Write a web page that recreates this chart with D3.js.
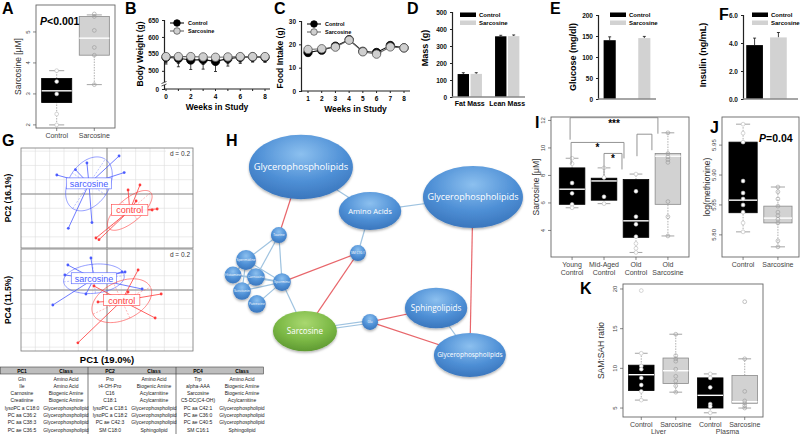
<html>
<head>
<script src="https://d3js.org/d3.v7.min.js"></script>
<style>
  body { margin: 0; background: #fff; }
</style>
</head>
<body>
<svg width=800 height=436></svg>
<script>
// ---------- data ----------
// A
const aGroups = ["Control", "Sarcosine"];
const aStats = [[2.0, 2.72, 3.1, 3.5, 3.75], [3.3, 4.25, 4.8, 5.5, 5.55]];
const aPoints = [[3.75, 3.4, 3.0, 2.35, 2.0], [5.58, 5.5, 5.05, 4.5, 4.25, 3.3]];
const aTicks = [2, 3, 4, 5];

// B
const weeksB = [0, 1, 2, 3, 4, 5, 6, 7, 8];
const bwControl = [540, 537, 532, 533, 528, 536, 540, 541, 540];
const bwSarcosine = [542, 542, 542, 541, 540, 541, 542, 542, 542];
const bwErrControl = [20, 25, 28, 28, 30, 22, 18, 15, 15];
const bwErrSarcosine = [18, 20, 20, 22, 22, 20, 16, 15, 15];
const bwTicks = [0, 500, 550, 600, 650];

// C
const weeksC = [1, 2, 3, 4, 5, 6, 7, 8];
const fiControl = [16.5, 17.5, 19.2, 22, 17, 16.5, 19.5, 18.5];
const fiSarcosine = [17.8, 18.1, 18.8, 21.8, 16.8, 15.8, 18.9, 18.5];
const fiTicks = [0, 10, 20, 30];

// D
const massCats = ["Fat Mass", "Lean Mass"];
const massControl = [135, 357];
const massSarcosine = [136, 358];
const massErrControl = [8, 6];
const massErrSarcosine = [7, 7];

// E
const glucose = [140, 145];
const glucoseErr = [8, 4];
// F
const insulin = [3.85, 4.4];
const insulinErr = [0.5, 0.35];

// G
const pcaTopSarc = [[-3.5, 1.33], [-1.4, 2.17], [0.84, 2.66], [1.2, 1.5], [-2.7, -2.4], [-1.05, -2.0], [-2.2, 1.7]];
const pcaTopCtrl = [[-0.77, -3.08], [-0.56, -3.2], [2.03, -0.49], [3.15, -1.12], [3.5, -1.05], [1.47, 0.28], [2.3, 0.63]];
const pcaBotSarc = [[-1.12, 2.24], [-2.73, 1.75], [-3.78, -1.05], [-1.47, -0.28], [1.26, 1.26], [1.05, 1.26], [2.45, 0.07], [-2.94, 1.05]];
const pcaBotCtrl = [[2.17, 1.4], [3.78, -0.28], [3.36, -1.96], [-2.03, -3.7], [-0.63, -0.84], [1.47, -0.14], [-0.91, 0.28]];
const pc1Names = ["Gln", "Ile", "Carnosine", "Creatinine", "lysoPC a C18:0", "PC aa C36:2", "PC aa C38:3", "PC ae C36:5"];
const pc1Class = ["Amino Acid", "Amino Acid", "Biogenic Amine", "Biogenic Amine", "Glycerophospholipid", "Glycerophospholipid", "Glycerophospholipid", "Glycerophospholipid"];
const pc2Names = ["Pro", "t4-OH-Pro", "C16", "C18:1", "lysoPC a C18:1", "lysoPC a C18:2", "PC ae C42:3", "SM C18:0"];
const pc2Class = ["Amino Acid", "Biogenic Amine", "Acylcarnitine", "Acylcarnitine", "Glycerophospholipid", "Glycerophospholipid", "Glycerophospholipid", "Sphingolipid"];
const pc4Names = ["Trp", "alpha-AAA", "Sarcosine", "C5-DC(C4-OH)", "PC aa C42:1", "PC ae C36:0", "PC ae C40:5", "SM C16:1"];
const pc4Class = ["Amino Acid", "Biogenic Amine", "Biogenic Amine", "Acylcarnitine", "Glycerophospholipid", "Glycerophospholipid", "Glycerophospholipid", "Sphingolipid"];

// H (network, layout in 0-100 units)
const hNodes = ["Glycerophospholipids", "Amino Acids", "Glycerophospholipids", "Taurine", "SM C16:1", "Spermidine", "Histamine", "Carnosine", "Spermine", "Serotonin", "Putrescine", "Sarcosine", "Glu", "Sphingolipids", "Glycerophospholipids"];
const hLayoutX = [26.1, 48.4, 81.6, 19.0, 44.5, 8.4, 4.2, 11.6, 20.0, 7.1, 11.9, 27.4, 48.4, 69.7, 80.6];
const hLayoutY = [11.25, 29.6, 23.75, 39.6, 47.1, 50, 56.25, 57.1, 59.2, 62.9, 68.3, 79.6, 75.8, 70, 89.6];
const hSize = [0.65, 0.39, 0.625, 0.1, 0.1, 0.125, 0.105, 0.11, 0.11, 0.11, 0.11, 0.4, 0.1, 0.39, 0.45];
const hAspect = [0.62, 0.61, 0.62, 1, 1, 1, 1, 1, 1, 1, 1, 0.63, 1, 0.65, 0.61];
const hEdgesPos = [[0, 1], [1, 2], [1, 4], [3, 5], [3, 7], [3, 8], [5, 6], [5, 7], [5, 8], [6, 7], [6, 8], [7, 8], [9, 8], [9, 7], [10, 8], [8, 11], [13, 14], [5, 9]];
const hEdgesNeg = [[0, 3], [8, 4], [11, 4], [12, 13], [12, 14], [2, 14]];
const hDouble = [[11, 12]];

// I
const iGroups = [["Young", "Control"], ["Mid-Aged", "Control"], ["Old", "Control"], ["Old", "Sarcosine"]];
const iStats = [[5.65, 5.9, 7.0, 8.55, 9.25], [5.95, 6.2, 7.6, 7.8, 8.55], [2.4, 3.5, 4.7, 7.7, 8.1], [3.6, 5.9, 9.4, 9.6, 11.1]];
const iPoints = [[9.25, 8.85, 7.45, 6.7, 5.9, 5.65], [8.55, 7.85, 6.45, 5.95], [8.1, 6.85, 5.0, 4.45, 3.55, 3.05, 2.7, 2.4], [11.1, 9.6, 9.35, 9.15, 8.95, 6.1, 5.0, 3.6]];
const iTicks = [4, 6, 8, 10, 12];
const iBrackets = [[0, 3, 12.2, "***"], [0, 2, 10.4, "*"], [1, 2, 9.6, "*"], [2, 3, 11.0, ""]];

// J
const jGroups = [["Control"], ["Sarcosine"]];
const jStats = [[5.805, 5.837, 5.858, 5.955, 5.985], [5.78, 5.82, 5.828, 5.848, 5.88]];
const jPoints = [[5.985, 5.97, 5.955, 5.89, 5.87, 5.86, 5.85, 5.838, 5.82, 5.805], [5.88, 5.872, 5.86, 5.848, 5.838, 5.832, 5.826, 5.82, 5.79, 5.78]];
const jTicks = [5.80, 5.85, 5.90, 5.95];

// K
const kGroups = [["Control"], ["Sarcosine"], ["Control"], ["Sarcosine"]];
const kTissues = ["Liver", "Plasma"];
const kStats = [[6.0, 7.2, 9.2, 10.4, 11.9], [7.0, 8.1, 9.7, 11.3, 14.3], [4.4, 5.0, 6.6, 8.8, 9.3], [5.0, 5.6, 5.8, 9.1, 11.2]];
const kPoints = [[19.8, 11.9, 10.3, 9.9, 8.8, 7.9, 7.1, 6.0], [14.3, 11.6, 11.2, 10.9, 9.9, 9.0, 8.4, 7.8, 7.0], [9.3, 8.8, 7.6, 5.5, 5.2, 4.4], [18.4, 11.2, 7.1, 5.9, 5.6, 5.3, 5.0]];
const kTicks = [5, 10, 15, 20];

// ---------- drawing ----------
const FONT = '"Liberation Sans", Arial, sans-serif';
const BLACK = "#000", GREY = "#d2d2d2";
const svg = d3.select("svg").style("font-family", FONT);
svg.append("rect").attr("width", 800).attr("height", 436).attr("fill", "#fff");

// panel letters
[["A", 2, 14], ["B", 125, 14], ["C", 274, 14], ["D", 407, 14], ["E", 550, 14], ["F", 719, 20],
 ["G", 2, 146], ["H", 226, 146], ["I", 535, 128], ["J", 710, 133], ["K", 580, 294]].forEach(d => {
  svg.append("text").attr("x", d[1]).attr("y", d[2]).text(d[0])
    .attr("font-size", 16).attr("font-weight", "bold");
});

// ---- R style box plots ----
function rBoxPanel(o) {
  const g = svg.append("g");
  const x = d3.scaleBand().domain(o.groups.map((d, i) => i)).range([o.left, o.right])
    .paddingInner(o.pi).paddingOuter(o.po);
  const y = d3.scaleLinear().domain(o.domain).range([o.bottom, o.top]);
  const bw = x.bandwidth();
  o.stats.forEach((s, i) => {
    const cx = x(i) + bw / 2;
    const fill = o.fills[i];
    [[s[0], s[1]], [s[3], s[4]]].forEach(w => g.append("line")
      .attr("x1", cx).attr("x2", cx).attr("y1", y(w[0])).attr("y2", y(w[1]))
      .attr("stroke", "#9a9a9a").attr("stroke-width", 0.8).attr("stroke-dasharray", "1.5,1.2"));
    [s[0], s[4]].forEach(v => g.append("line")
      .attr("x1", cx - bw / 4).attr("x2", cx + bw / 4).attr("y1", y(v)).attr("y2", y(v))
      .attr("stroke", "#9a9a9a").attr("stroke-width", 0.9));
    g.append("rect").attr("x", x(i)).attr("y", y(s[3])).attr("width", bw)
      .attr("height", y(s[1]) - y(s[3])).attr("fill", fill)
      .attr("stroke", fill === BLACK ? BLACK : "#8a8a8a").attr("stroke-width", 0.8);
    g.append("line").attr("x1", x(i)).attr("x2", x(i) + bw).attr("y1", y(s[2])).attr("y2", y(s[2]))
      .attr("stroke", "#fff").attr("stroke-width", 1.4);
    g.selectAll(null).data(o.points[i]).join("circle")
      .attr("cx", cx).attr("cy", d => y(d)).attr("r", 1.9)
      .attr("fill", fill === BLACK ? "#fff" : "none")
      .attr("stroke", fill === BLACK ? "#bbb" : "#999").attr("stroke-width", 0.6);
  });
  g.append("rect").attr("x", o.left).attr("y", o.top).attr("width", o.right - o.left)
    .attr("height", o.bottom - o.top).attr("fill", "none").attr("stroke", "#666").attr("stroke-width", 0.9);
  // y axis
  const fmt = o.fmt || (d => d);
  o.ticks.forEach(t => {
    g.append("line").attr("x1", o.left - 3).attr("x2", o.left).attr("y1", y(t)).attr("y2", y(t))
      .attr("stroke", "#555").attr("stroke-width", 0.7);
    g.append("text").attr("transform", `translate(${o.left - 6},${y(t)}) rotate(-90)`)
      .attr("text-anchor", "middle").attr("font-size", 6).attr("fill", "#444").text(fmt(t));
  });
  // x axis
  o.groups.forEach((lab, i) => {
    const cx = x(i) + bw / 2;
    g.append("line").attr("x1", cx).attr("x2", cx).attr("y1", o.bottom).attr("y2", o.bottom + 3)
      .attr("stroke", "#555").attr("stroke-width", 0.7);
    lab.forEach((l, k) => g.append("text").attr("x", cx).attr("y", o.bottom + 10 + k * 8)
      .attr("text-anchor", "middle").attr("font-size", 7).attr("fill", "#444").text(l));
  });
  g.append("text").attr("transform", `translate(${o.ylabX},${(o.top + o.bottom) / 2}) rotate(-90)`)
    .attr("text-anchor", "middle").attr("font-size", 8.5).attr("fill", "#333").text(o.ylabel);
  return { g, x, y, bw };
}

// A
rBoxPanel({ groups: aGroups.map(d => [d]), stats: aStats, points: aPoints, fills: [BLACK, GREY],
  left: 36, right: 115, top: 5, bottom: 128, domain: [1.9, 5.87], pi: 0.2, po: 0.15,
  ticks: aTicks, ylabel: "Sarcosine [\u03bcM]", ylabX: 21 });
svg.append("text").attr("x", 40).attr("y", 25).attr("font-size", 10.5).attr("font-weight", "bold")
  .call(t => t.append("tspan").attr("font-style", "italic").text("P"))
  .call(t => t.append("tspan").text("<0.001"));

// I
const pI = rBoxPanel({ groups: iGroups, stats: iStats, points: iPoints, fills: [BLACK, BLACK, BLACK, GREY],
  left: 551, right: 689, top: 117, bottom: 257, domain: [2.07, 12.25], pi: 0.2, po: 0.26,
  ticks: iTicks, ylabel: "Sarcosine [\u03bcM]", ylabX: 539 });
iBrackets.forEach((b, k) => {
  const x1 = pI.x(b[0]) + pI.bw / 2 - 2 + k, x2 = pI.x(b[1]) + pI.bw / 2 - 10 - k * 2;
  const yy = pI.y(b[2]);
  pI.g.append("path").attr("d", `M${x1},${yy + 22}V${yy}H${x2}V${yy + 16}`)
    .attr("fill", "none").attr("stroke", "#888").attr("stroke-width", 0.9);
  if (b[3]) pI.g.append("text").attr("x", (x1 + x2) / 2).attr("y", yy + 9)
    .attr("text-anchor", "middle").attr("font-size", 10).attr("font-weight", "bold").text(b[3]);
});

// J
rBoxPanel({ groups: jGroups, stats: jStats, points: jPoints, fills: [BLACK, GREY],
  left: 722, right: 799, top: 117, bottom: 257, domain: [5.763, 5.997], pi: 0.19, po: 0.2,
  ticks: jTicks, fmt: d3.format(".2f"), ylabel: "log(methionine)", ylabX: 710 });
svg.append("text").attr("x", 759).attr("y", 142).attr("font-size", 10.5).attr("font-weight", "bold")
  .call(t => t.append("tspan").attr("font-style", "italic").text("P"))
  .call(t => t.append("tspan").text("=0.04"));

// K
const pK = rBoxPanel({ groups: kGroups, stats: kStats, points: kPoints, fills: [BLACK, GREY, BLACK, GREY],
  left: 623, right: 763, top: 284, bottom: 417, domain: [3.87, 20.63], pi: 0.26, po: 0.16,
  ticks: kTicks, ylabel: "SAM:SAH ratio", ylabX: 604 });
kTissues.forEach((t, k) => {
  const cx = (pK.x(2 * k) + pK.x(2 * k + 1) + pK.bw) / 2;
  svg.append("text").attr("x", cx).attr("y", 434).attr("text-anchor", "middle")
    .attr("font-size", 7).attr("fill", "#444").text(t);
});

// ---- Excel style line charts ----
function styleAxis(a) {
  a.select(".domain").attr("stroke", "#222").attr("stroke-width", 1.2);
  a.selectAll(".tick line").attr("stroke", "#222");
  a.selectAll(".tick text").attr("font-size", 6.5).attr("font-weight", "bold").attr("font-family", FONT).attr("fill", "#111");
}
function linePanel(o) {
  const g = svg.append("g");
  const x = d3.scaleLinear().domain(o.xDomain).range(o.xRange);
  const y = d3.scaleLinear().domain(o.yDomain).range(o.yRange);
  const ya = g.append("g").attr("transform", `translate(${o.axisX},0)`)
    .call(d3.axisLeft(y).tickValues(o.yTicks).tickSize(2).tickPadding(3));
  styleAxis(ya);
  g.append("line").attr("x1", o.axisX).attr("x2", o.xEnd).attr("y1", o.yRange[0]).attr("y2", o.yRange[0])
    .attr("stroke", "#222").attr("stroke-width", 1.2);
  o.weeks.forEach(w => {
    g.append("line").attr("x1", x(w)).attr("x2", x(w)).attr("y1", o.yRange[0]).attr("y2", o.yRange[0] + 2).attr("stroke", "#222");
    if (o.labelWeek(w)) g.append("text").attr("x", x(w)).attr("y", o.yRange[0] + 10).attr("text-anchor", "middle")
      .attr("font-size", 6.5).attr("font-weight", "bold").text(w);
  });
  const series = [[o.ctrl, o.ctrlErr, BLACK, BLACK, "#111"], [o.sarc, o.sarcErr, "#cfcfcf", "#555", "#666"]];
  series.forEach(s => {
    s[0].forEach((v, i) => {
      if (!s[1]) return;
      g.append("line").attr("x1", x(o.weeks[i])).attr("x2", x(o.weeks[i])).attr("y1", y(v)).attr("y2", y(v - s[1][i]))
        .attr("stroke", "#111").attr("stroke-width", 0.8);
      g.append("line").attr("x1", x(o.weeks[i]) - 1.5).attr("x2", x(o.weeks[i]) + 1.5)
        .attr("y1", y(v - s[1][i])).attr("y2", y(v - s[1][i])).attr("stroke", "#111").attr("stroke-width", 0.8);
    });
  });
  series.forEach(s => {
    g.append("path").attr("d", d3.line().x((d, i) => x(o.weeks[i])).y(d => y(d))(s[0]))
      .attr("fill", "none").attr("stroke", s[4]).attr("stroke-width", 1.1);
    g.selectAll(null).data(s[0]).join("circle").attr("cx", (d, i) => x(o.weeks[i])).attr("cy", d => y(d))
      .attr("r", 4.2).attr("fill", s[2]).attr("stroke", s[3]).attr("stroke-width", 0.8);
  });
  // legend
  ["Control", "Sarcosine"].forEach((n, k) => {
    const ly = o.legY + k * 8;
    g.append("line").attr("x1", o.legX).attr("x2", o.legX + 14).attr("y1", ly).attr("y2", ly).attr("stroke", series[k][4]).attr("stroke-width", 1.1);
    g.append("circle").attr("cx", o.legX + 7).attr("cy", ly).attr("r", 3.3).attr("fill", series[k][2]).attr("stroke", series[k][3]).attr("stroke-width", 0.8);
    g.append("text").attr("x", o.legX + 18).attr("y", ly + 2).attr("font-size", 5.5).attr("font-weight", "bold").text(n);
  });
  g.append("text").attr("x", (o.axisX + o.xEnd) / 2).attr("y", o.yRange[0] + 21).attr("text-anchor", "middle")
    .attr("font-size", 8.5).attr("font-weight", "bold").text("Weeks in Study");
  g.append("text").attr("transform", `translate(${o.ylabX},${o.ylabY}) rotate(-90)`).attr("text-anchor", "middle")
    .attr("font-size", 8.5).attr("font-weight", "bold").text(o.ylabel);
  return { g, x, y };
}

// B
const pB = linePanel({ weeks: weeksB, ctrl: bwControl, sarc: bwSarcosine, ctrlErr: bwErrControl, sarcErr: bwErrSarcosine,
  xDomain: [0, 8], xRange: [166, 265], yDomain: [0, 470, 650], yRange: [89, 81, 20], yTicks: bwTicks,
  axisX: 164, xEnd: 270, labelWeek: w => w % 2 === 0, legX: 170, legY: 23, ylabX: 143, ylabY: 54, ylabel: "Body Weight (g)" });
pB.g.append("rect").attr("x", 161).attr("y", 82).attr("width", 6).attr("height", 3).attr("fill", "#fff");
pB.g.append("path").attr("d", "M161.5,83.5 L166.5,81.5 M161.5,86 L166.5,84").attr("stroke", "#222").attr("stroke-width", 0.8);

// C
linePanel({ weeks: weeksC, ctrl: fiControl, sarc: fiSarcosine, ctrlErr: null, sarcErr: null,
  xDomain: [1, 8], xRange: [308, 404], yDomain: [0, 30], yRange: [91, 21], yTicks: fiTicks,
  axisX: 301, xEnd: 410, labelWeek: w => true, legX: 307, legY: 24, ylabX: 283, ylabY: 58, ylabel: "Food Intake (g)" });

// ---- Excel style bar charts ----
function barPanel(o) {
  const g = svg.append("g");
  const x0 = d3.scaleBand().domain(o.cats).range(o.xRange).paddingInner(o.pi).paddingOuter(o.po);
  const x1 = d3.scaleBand().domain(["Control", "Sarcosine"]).range([0, x0.bandwidth()]).paddingInner(o.sub);
  const y = d3.scaleLinear().domain(o.yDomain).range(o.yRange);
  const ya = g.append("g").attr("transform", `translate(${o.axisX},0)`)
    .call(d3.axisLeft(y).tickValues(o.yTicks).tickSize(2).tickPadding(3));
  styleAxis(ya);
  const sets = [["Control", o.ctrl, o.ctrlErr, BLACK], ["Sarcosine", o.sarc, o.sarcErr, GREY]];
  sets.forEach(s => o.cats.forEach((c, i) => {
    const bx = x0(c) + x1(s[0]);
    const cx = bx + x1.bandwidth() / 2;
    g.append("line").attr("x1", cx).attr("x2", cx).attr("y1", y(s[1][i])).attr("y2", y(s[1][i] + s[2][i])).attr("stroke", "#111").attr("stroke-width", 0.8);
    g.append("line").attr("x1", cx - 1.5).attr("x2", cx + 1.5).attr("y1", y(s[1][i] + s[2][i])).attr("y2", y(s[1][i] + s[2][i])).attr("stroke", "#111").attr("stroke-width", 0.8);
    g.append("rect").attr("x", bx).attr("y", y(s[1][i])).attr("width", x1.bandwidth())
      .attr("height", y(0) - y(s[1][i])).attr("fill", s[3]);
  }));
  g.append("line").attr("x1", o.axisX).attr("x2", o.xEnd).attr("y1", y(0)).attr("y2", y(0)).attr("stroke", "#888").attr("stroke-width", 1.3);
  if (o.showCats) o.cats.forEach(c => g.append("text").attr("x", x0(c) + x0.bandwidth() / 2).attr("y", y(0) + 9)
    .attr("text-anchor", "middle").attr("font-size", 7).attr("font-weight", "bold").text(c));
  sets.forEach((s, k) => {
    g.append("rect").attr("x", o.legX).attr("y", o.legY + k * 8 - 2.5).attr("width", 16).attr("height", 4.5).attr("fill", s[3]);
    g.append("text").attr("x", o.legX + 19).attr("y", o.legY + k * 8 + 2).attr("font-size", 6).attr("font-weight", "bold").text(s[0]);
  });
  g.append("text").attr("transform", `translate(${o.ylabX},${o.ylabY}) rotate(-90)`).attr("text-anchor", "middle")
    .attr("font-size", 9).attr("font-weight", "bold").text(o.ylabel);
}

barPanel({ cats: massCats, ctrl: massControl, sarc: massSarcosine, ctrlErr: massErrControl, sarcErr: massErrSarcosine,
  xRange: [452, 525], pi: 0.35, po: 0.15, sub: 0.12, yDomain: [0, 500], yRange: [97, 12], yTicks: [0, 100, 200, 300, 400, 500],
  axisX: 452, xEnd: 525, showCats: true, legX: 460, legY: 15, ylabX: 428, ylabY: 48, ylabel: "Mass (g)" });
barPanel({ cats: ["All"], ctrl: [glucose[0]], sarc: [glucose[1]], ctrlErr: [glucoseErr[0]], sarcErr: [glucoseErr[1]],
  xRange: [598, 656], pi: 0, po: 0.12, sub: 0.65, yDomain: [0, 200], yRange: [99, 15], yTicks: [0, 50, 100, 150, 200],
  axisX: 598, xEnd: 656, showCats: false, legX: 610, legY: 15, ylabX: 576, ylabY: 57, ylabel: "Glucose (mg/dl)" });
barPanel({ cats: ["All"], ctrl: [insulin[0]], sarc: [insulin[1]], ctrlErr: [insulinErr[0]], sarcErr: [insulinErr[1]],
  xRange: [743, 790], pi: 0, po: 0.08, sub: 0.3, yDomain: [0, 6], yRange: [99, 15], yTicks: [0, 2, 4, 6],
  axisX: 743, xEnd: 798, showCats: false, legX: 752, legY: 15, ylabX: 706, ylabY: 55, ylabel: "Insulin (ng/mL)" });

// ---- G: PCA ----
function pcaPlot(top, bottom, yDomain, groups) {
  const g = svg.append("g");
  const x = d3.scaleLinear().domain([-6, 6]).range([21, 193]);
  const y = d3.scaleLinear().domain(yDomain).range([bottom, top]);
  d3.range(-5, 6).forEach(v => g.append("line").attr("x1", x(v)).attr("x2", x(v)).attr("y1", top).attr("y2", bottom).attr("stroke", "#ddd").attr("stroke-width", 0.6));
  d3.range(Math.ceil(yDomain[0]), Math.floor(yDomain[1]) + 1).forEach(v => g.append("line").attr("x1", 21).attr("x2", 193).attr("y1", y(v)).attr("y2", y(v)).attr("stroke", "#ddd").attr("stroke-width", 0.6));
  g.append("line").attr("x1", x(0)).attr("x2", x(0)).attr("y1", top).attr("y2", bottom).attr("stroke", "#888").attr("stroke-width", 1);
  g.append("line").attr("x1", 21).attr("x2", 193).attr("y1", y(0)).attr("y2", y(0)).attr("stroke", "#888").attr("stroke-width", 1);
  g.append("rect").attr("x", 21).attr("y", top).attr("width", 172).attr("height", bottom - top).attr("fill", "none").attr("stroke", "#777").attr("stroke-width", 0.8);
  g.append("rect").attr("x", 166).attr("y", top + 2).attr("width", 26).attr("height", 8).attr("fill", "#fff");
  g.append("text").attr("x", 190).attr("y", top + 8).attr("text-anchor", "end").attr("font-size", 6.5).attr("fill", "#333").text("d = 0.2");
  groups.forEach(([pts, col, name]) => {
    const mx = d3.mean(pts, d => d[0]), my = d3.mean(pts, d => d[1]);
    const vx = d3.mean(pts, d => (d[0] - mx) ** 2), vy = d3.mean(pts, d => (d[1] - my) ** 2);
    const cxy = d3.mean(pts, d => (d[0] - mx) * (d[1] - my));
    const tr = (vx + vy) / 2, disc = Math.sqrt(tr * tr - (vx * vy - cxy * cxy));
    const l1 = tr + disc, l2 = Math.max(tr - disc, 0.01);
    const ang = Math.atan2(l1 - vx, cxy || 1e-9);
    const a = Math.sqrt(l1), b = Math.sqrt(l2);
    const ca = Math.cos(ang), sa = Math.sin(ang);
    const ell = d3.range(0, 2 * Math.PI + 0.01, 0.05).map(t => [mx + a * Math.cos(t) * ca - b * Math.sin(t) * sa, my + a * Math.cos(t) * sa + b * Math.sin(t) * ca]);
    g.append("path").attr("d", d3.line().x(d => x(d[0])).y(d => y(d[1]))(ell)).attr("fill", "none").attr("stroke", col).attr("stroke-width", 0.8).attr("opacity", 0.75);
    [[a * ca, a * sa], [-b * sa, b * ca]].forEach(v => g.append("line")
      .attr("x1", x(mx - v[0])).attr("x2", x(mx + v[0])).attr("y1", y(my - v[1])).attr("y2", y(my + v[1]))
      .attr("stroke", col).attr("stroke-width", 0.6).attr("stroke-dasharray", "2,1.5").attr("opacity", 0.6));
    pts.forEach(p => g.append("line").attr("x1", x(mx)).attr("y1", y(my)).attr("x2", x(p[0])).attr("y2", y(p[1])).attr("stroke", col).attr("stroke-width", 0.8));
    g.selectAll(null).data(pts).join("circle").attr("cx", d => x(d[0])).attr("cy", d => y(d[1])).attr("r", 1.4).attr("fill", col);
    const tw = name.length * 4.6 + 4;
    g.append("rect").attr("x", x(mx) - tw / 2).attr("y", y(my) - 6).attr("width", tw).attr("height", 11).attr("fill", "#fff").attr("stroke", col).attr("stroke-width", 0.6).attr("opacity", 0.95);
    g.append("text").attr("x", x(mx)).attr("y", y(my) + 3).attr("text-anchor", "middle").attr("font-size", 9).attr("fill", col).text(name);
  });
}
const BLUE = "#4b5cff", RED = "#ff3b3b";
pcaPlot(148, 248, [-3.78, 3.22], [[pcaTopSarc, BLUE, "sarcosine"], [pcaTopCtrl, RED, "control"]]);
pcaPlot(249, 351, [-4.27, 2.87], [[pcaBotSarc, BLUE, "sarcosine"], [pcaBotCtrl, RED, "control"]]);
svg.append("text").attr("transform", "translate(11,198) rotate(-90)").attr("text-anchor", "middle").attr("font-size", 8.5).attr("font-weight", "bold").text("PC2 (16.1%)");
svg.append("text").attr("transform", "translate(11,300) rotate(-90)").attr("text-anchor", "middle").attr("font-size", 8.5).attr("font-weight", "bold").text("PC4 (11.5%)");
svg.append("text").attr("x", 107).attr("y", 363).attr("text-anchor", "middle").attr("font-size", 9.5).attr("font-weight", "bold").text("PC1 (19.0%)");

// table
const tCols = [["PC1", pc1Names], ["Class", pc1Class], ["PC2", pc2Names], ["Class", pc2Class], ["PC4", pc4Names], ["Class", pc4Class]];
const tx = d3.scaleBand().domain(d3.range(6)).range([0, 264]);
const ty = d3.scaleLinear().domain([0, 7]).range([380.5, 431.5]);
svg.append("rect").attr("x", 0.5).attr("y", 367).attr("width", 263).attr("height", 7).attr("fill", "#bdbdbd").attr("stroke", "#444").attr("stroke-width", 0.6);
[2, 4].forEach(c => svg.append("line").attr("x1", tx(c)).attr("x2", tx(c)).attr("y1", 367).attr("y2", 434).attr("stroke", "#444").attr("stroke-width", 0.7));
tCols.forEach((c, i) => {
  const cx = tx(i) + tx.bandwidth() / 2;
  svg.append("text").attr("x", cx).attr("y", 372.5).attr("text-anchor", "middle").attr("font-size", 5).attr("font-weight", "bold").text(c[0]);
  c[1].forEach((v, r) => svg.append("text").attr("x", cx).attr("y", ty(r)).attr("text-anchor", "middle").attr("font-size", 5).attr("fill", "#222").text(v));
});

// ---- H: network ----
const defs = svg.append("defs");
const gradB = defs.append("radialGradient").attr("id", "gb").attr("cx", "50%").attr("cy", "30%").attr("r", "70%");
gradB.append("stop").attr("offset", "0%").attr("stop-color", "#8cc0ef");
gradB.append("stop").attr("offset", "60%").attr("stop-color", "#4f90d6");
gradB.append("stop").attr("offset", "100%").attr("stop-color", "#3a76bd");
const gradG = defs.append("radialGradient").attr("id", "gg").attr("cx", "50%").attr("cy", "30%").attr("r", "70%");
gradG.append("stop").attr("offset", "0%").attr("stop-color", "#a9d870");
gradG.append("stop").attr("offset", "60%").attr("stop-color", "#7cb946");
gradG.append("stop").attr("offset", "100%").attr("stop-color", "#5f9a32");
defs.append("filter").attr("id", "sh").attr("x", "-20%").attr("y", "-20%").attr("width", "140%").attr("height", "150%")
  .append("feDropShadow").attr("dx", 0).attr("dy", 1.5).attr("stdDeviation", 1.2).attr("flood-color", "#000").attr("flood-opacity", 0.3);

const hx = d3.scaleLinear().domain([0, 100]).range([220, 530]);
const hy = d3.scaleLinear().domain([0, 100]).range([140, 380]);
const hr = d3.scaleLinear().domain([0, 1]).range([0, 80]);
const gH = svg.append("g");
const edge = (e, col, off) => gH.append("line")
  .attr("x1", hx(hLayoutX[e[0]])).attr("y1", hy(hLayoutY[e[0]]) + off).attr("x2", hx(hLayoutX[e[1]])).attr("y2", hy(hLayoutY[e[1]]) + off)
  .attr("stroke", col).attr("stroke-width", 1.2);
hEdgesPos.forEach(e => edge(e, "#9fc3e0", 0));
hEdgesNeg.forEach(e => edge(e, "#e8666b", 0));
hDouble.forEach(e => { edge(e, "#9fc3e0", -1.3); edge(e, "#9fc3e0", 1.3); });
hNodes.forEach((n, i) => {
  const rx = hr(hSize[i]), ry = rx * hAspect[i];
  gH.append("ellipse").attr("cx", hx(hLayoutX[i])).attr("cy", hy(hLayoutY[i])).attr("rx", rx).attr("ry", ry)
    .attr("fill", n === "Sarcosine" ? "url(#gg)" : "url(#gb)").attr("filter", "url(#sh)");
  const fs = Math.min(2 * rx * 0.9 / (n.length * 0.5), ry * 0.4);
  gH.append("text").attr("x", hx(hLayoutX[i])).attr("y", hy(hLayoutY[i]) + fs * 0.35).attr("text-anchor", "middle")
    .attr("font-size", fs).attr("fill", "#fff").attr("font-family", '"Open Sans", "DejaVu Sans", sans-serif').text(n);
});
</script>
</body>
</html>
